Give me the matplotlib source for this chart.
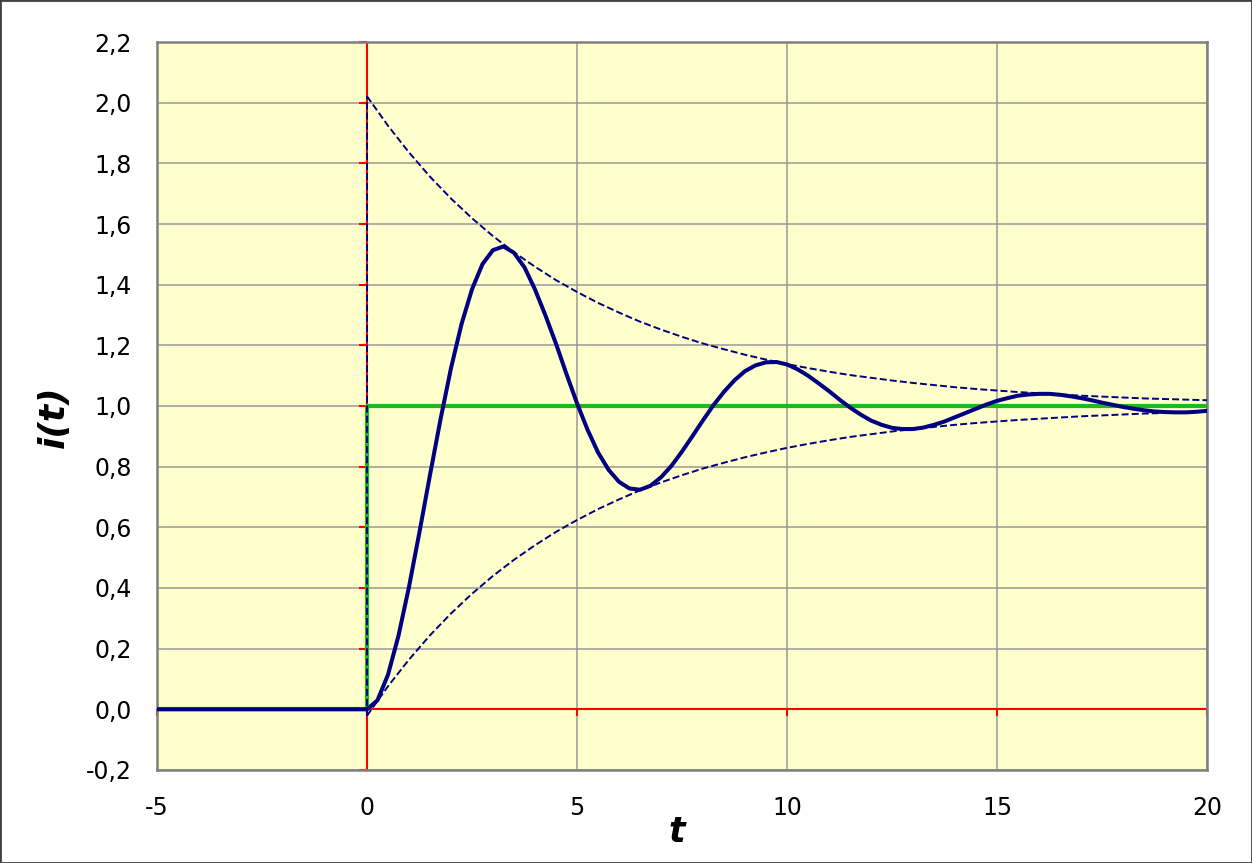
import matplotlib
matplotlib.use('Agg')
import matplotlib.pyplot as plt
from matplotlib.patches import Rectangle

# Step response of the circuit (t step 0.25 for t >= 0)
t_resp = [-5.0, 0.0, 0.25, 0.5, 0.75, 1.0, 1.25, 1.5, 1.75, 2.0, 2.25, 2.5, 2.75,
          3.0, 3.25, 3.5, 3.75, 4.0, 4.25, 4.5, 4.75, 5.0, 5.25, 5.5, 5.75,
          6.0, 6.25, 6.5, 6.75, 7.0, 7.25, 7.5, 7.75, 8.0, 8.25, 8.5, 8.75,
          9.0, 9.25, 9.5, 9.75, 10.0, 10.25, 10.5, 10.75, 11.0, 11.25, 11.5, 11.75,
          12.0, 12.25, 12.5, 12.75, 13.0, 13.25, 13.5, 13.75, 14.0, 14.25, 14.5, 14.75,
          15.0, 15.25, 15.5, 15.75, 16.0, 16.25, 16.5, 16.75, 17.0, 17.25, 17.5, 17.75,
          18.0, 18.25, 18.5, 18.75, 19.0, 19.25, 19.5, 19.75, 20.0]
i_resp = [0.0, 0.0, 0.030, 0.114, 0.243, 0.404, 0.585, 0.773, 0.956, 1.125, 1.270, 1.385, 1.468,
          1.514, 1.526, 1.505, 1.457, 1.384, 1.298, 1.205, 1.105, 1.009, 0.922, 0.847, 0.790,
          0.750, 0.728, 0.724, 0.737, 0.765, 0.803, 0.850, 0.901, 0.953, 1.003, 1.047, 1.085,
          1.115, 1.134, 1.144, 1.145, 1.137, 1.121, 1.100, 1.075, 1.049, 1.021, 0.995, 0.972,
          0.952, 0.938, 0.928, 0.924, 0.924, 0.929, 0.938, 0.949, 0.963, 0.977, 0.991, 1.005,
          1.017, 1.026, 1.034, 1.038, 1.040, 1.040, 1.037, 1.032, 1.026, 1.019, 1.011, 1.004,
          0.997, 0.991, 0.986, 0.982, 0.980, 0.979, 0.979, 0.981, 0.984]

# Unit step input
t_step = [-5.0, 0.0, 0.0, 20.0]
i_step = [0.0, 0.0, 1.0, 1.0]

# Exponential envelopes (t step 0.5)
t_env = [0.0, 0.5, 1.0, 1.5, 2.0, 2.5, 3.0, 3.5, 4.0, 4.5, 5.0, 5.5, 6.0, 6.5, 7.0, 7.5,
         8.0, 8.5, 9.0, 9.5, 10.0, 10.5, 11.0, 11.5, 12.0, 12.5, 13.0, 13.5, 14.0, 14.5,
         15.0, 15.5, 16.0, 16.5, 17.0, 17.5, 18.0, 18.5, 19.0, 19.5, 20.0]
env_upper = [2.021, 1.924, 1.836, 1.756, 1.684, 1.619, 1.560, 1.507, 1.459, 1.415, 1.376,
             1.340, 1.308, 1.278, 1.252, 1.228, 1.206, 1.187, 1.169, 1.153, 1.138, 1.125,
             1.113, 1.102, 1.093, 1.084, 1.076, 1.069, 1.062, 1.056, 1.051, 1.046, 1.042,
             1.038, 1.034, 1.031, 1.028, 1.025, 1.023, 1.021, 1.019]
env_lower = [-0.021, 0.076, 0.164, 0.244, 0.316, 0.381, 0.440, 0.493, 0.541, 0.585, 0.624,
             0.660, 0.692, 0.722, 0.748, 0.772, 0.794, 0.813, 0.831, 0.847, 0.862, 0.875,
             0.887, 0.898, 0.907, 0.916, 0.924, 0.931, 0.938, 0.944, 0.949, 0.954, 0.958,
             0.962, 0.966, 0.969, 0.972, 0.975, 0.977, 0.979, 0.981]

x_ticks = [-5, 0, 5, 10, 15, 20]
y_ticks = [-0.2, 0.0, 0.2, 0.4, 0.6, 0.8, 1.0, 1.2, 1.4, 1.6, 1.8, 2.0, 2.2]
y_labels = ['-0,2', '0,0', '0,2', '0,4', '0,6', '0,8', '1,0', '1,2', '1,4', '1,6', '1,8', '2,0', '2,2']

navy = '#000080'
dash = (0, (3.6, 1.6))

fig = plt.figure(figsize=(12.52, 8.63), dpi=100)
ax = fig.add_axes([0.1254, 0.1078, 0.8387, 0.8435])
ax.set_facecolor('#FFFFCC')

ax.set_xlim(-5, 20)
ax.set_ylim(-0.2, 2.2)
ax.set_xticks(x_ticks)
ax.set_xticklabels([str(v) for v in x_ticks])
ax.set_yticks(y_ticks)
ax.set_yticklabels(y_labels)
ax.tick_params(length=0, labelsize=17, colors='black')
ax.tick_params(axis='x', pad=19)
ax.tick_params(axis='y', pad=18)

ax.grid(True, color='#999999', linewidth=1.1, zorder=0)
ax.set_axisbelow(True)
for sp in ax.spines.values():
    sp.set_color('#808080')
    sp.set_linewidth(1.8)

# red axes crossing at zero, with their own tick marks
ax.axvline(0, color='red', linewidth=1.5, zorder=2)
ax.axhline(0, color='red', linewidth=1.5, zorder=2)
ax.plot([0] * len(y_ticks), y_ticks, linestyle='none', marker=0, markersize=6,
        markeredgecolor='red', markeredgewidth=1.5, zorder=2, clip_on=False)
ax.plot(x_ticks, [0] * len(x_ticks), linestyle='none', marker=3, markersize=5,
        markeredgecolor='red', markeredgewidth=1.5, zorder=2, clip_on=False)

# input step, response and envelopes
ax.plot(t_step, i_step, color='#1EB91E', linewidth=3.0, zorder=3)
ax.plot(t_resp, i_resp, color=navy, linewidth=2.9, zorder=4, solid_joinstyle='round')
ax.plot(t_env, env_upper, color=navy, linewidth=1.4, linestyle=dash, zorder=5)
ax.plot(t_env, env_lower, color=navy, linewidth=1.4, linestyle=dash, zorder=5)
ax.plot([t_env[0], t_env[0]], [env_lower[0], env_upper[0]], color=navy,
        linewidth=1.4, linestyle=dash, zorder=5)

ax.set_xlabel('t', fontsize=25, fontweight='bold', fontstyle='italic')
ax.set_ylabel('i(t)', fontsize=26, fontweight='bold', fontstyle='italic')
ax.xaxis.set_label_coords(0.495, -0.062)
ax.yaxis.set_label_coords(-0.082, 0.485)

# thin frame round the whole chart
fig.patches.append(Rectangle((0, 0), 1, 1, transform=fig.transFigure, fill=False,
                             edgecolor='#404040', linewidth=2))

fig.savefig('out.png', dpi=100)
